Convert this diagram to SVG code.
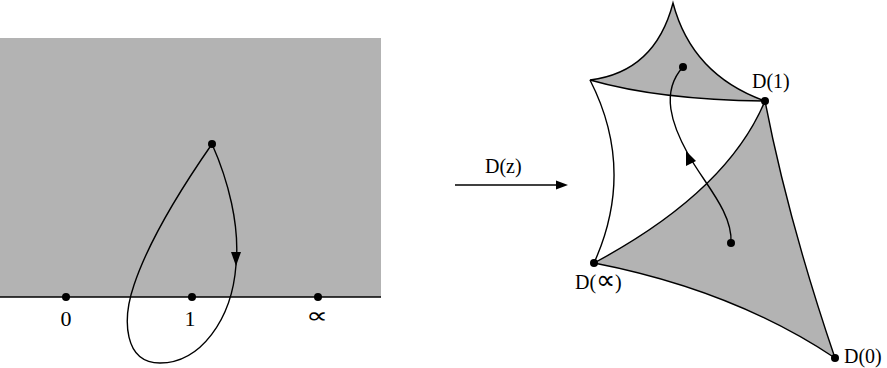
<svg xmlns="http://www.w3.org/2000/svg" width="887" height="368" viewBox="0 0 887 368">
<style>
.edge{fill:none;stroke:#000;stroke-width:1.4}
.dot{fill:#000}
.lbl{font-family:"Liberation Serif",serif;font-size:20px;fill:#000}
.num{font-family:"Liberation Serif",serif;font-size:22px;fill:#000}
.gray{fill:#b3b3b3}
</style>
<g id="halfplane">
<rect class="gray" x="0" y="38" width="381" height="259"/>
<line class="edge" x1="0" y1="297" x2="381" y2="297"/>
</g>
<g id="p0"><circle class="dot" cx="66" cy="297" r="4"/><text class="num" x="66" y="326" text-anchor="middle">0</text></g>
<g id="p1"><circle class="dot" cx="192" cy="297" r="4"/><text class="num" x="190" y="326" text-anchor="middle">1</text></g>
<g id="pinf"><circle class="dot" cx="318" cy="297" r="4"/><text class="num" transform="translate(317,323) scale(1.4,1)" x="0" y="0" font-size="28" text-anchor="middle">∝</text></g>
<g id="start"><circle class="dot" cx="212" cy="144" r="4"/></g>
<g id="upper-tri">
<path class="gray" d="M590,80 Q655,72 673,3 Q692,75 765,101 Q660,100 590,80 Z"/>
<path class="edge" d="M590,80 Q655,72 673,3 Q692,75 765,101 Q660,100 590,80 Z"/>
</g>
<g id="lower-tri">
<path class="gray" d="M594,263 Q727,192 765,101 Q788,220 835,358 Q733,290 594,263 Z"/>
<path class="edge" d="M594,263 Q727,192 765,101 Q788,220 835,358 Q733,290 594,263 Z"/>
</g>
<g id="white-tri">
<path class="edge" d="M590,80 Q636,170 594,263"/>
</g>
<g id="D1"><circle class="dot" cx="765" cy="101" r="4"/><text class="lbl" x="752" y="88">D(1)</text></g>
<g id="Dinf"><circle class="dot" cx="594" cy="263" r="4"/><text class="lbl" x="575" y="289">D(<tspan font-size="27">∝</tspan>)</text></g>
<g id="D0"><circle class="dot" cx="835" cy="358" r="4"/><text class="lbl" x="844" y="363">D(0)</text></g>
<g id="imgstart"><circle class="dot" cx="683" cy="67" r="4"/></g>
<g id="imgend"><circle class="dot" cx="731" cy="243" r="4"/></g>
<g id="map"><text class="lbl" x="485" y="173">D(z)</text></g>
<g id="connectors">
<path class="edge" d="M212,144 C228,180 240,225 236,265 C232,320 200,363 160,363 C124,363 122,320 134,285 C149,240 180,190 212,144"/>
<polygon class="dot" points="236,266 231,252 241,252"/>
<path class="edge" d="M731,243 C733,212 703,182 688,154 C672,125 660,92 683,67"/>
<polygon class="dot" points="686,151 686,166 696,161"/>
<line class="edge" x1="455" y1="185" x2="558" y2="185"/>
<polygon class="dot" points="568,185 556,180.5 556,189.5"/>
</g>
</svg>
